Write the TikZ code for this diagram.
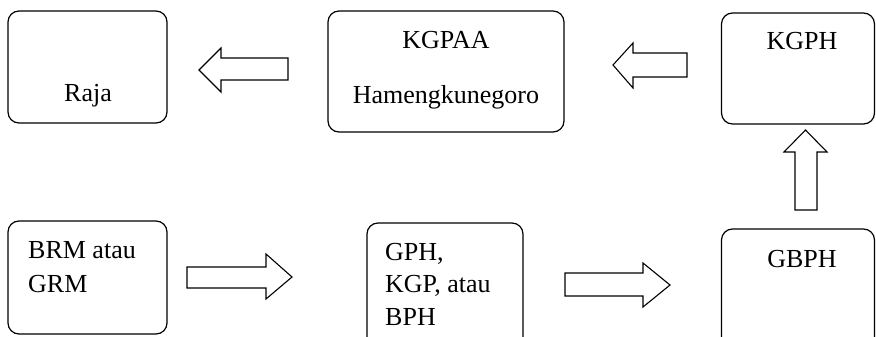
\documentclass[tikz,border=0pt]{standalone}
\usepackage{fontspec}
\setmainfont{Liberation Serif}
\begin{document}
\begin{tikzpicture}[x=1pt,y=-1pt,
  box/.style={draw,line width=1.2pt,rounded corners=11pt,inner sep=0pt},
  lbl/.style={inner sep=0pt,font=\fontsize{26}{32}\selectfont},
  blockarrow/.style={draw,line width=1.1pt,fill=white,line join=miter}]
\useasboundingbox (0,0) rectangle (876,337);
\clip (0,0) rectangle (876,337);

% rank boxes
\node[box,minimum width=159,minimum height=112] (raja)  at (87.5,67) {};
\node[box,minimum width=236,minimum height=121] (kgpaa) at (446,71.5) {};
\node[box,minimum width=153,minimum height=111] (kgph)  at (798,68.5) {};
\node[box,minimum width=159,minimum height=113] (brm)   at (87.5,277.5) {};
\node[box,minimum width=156,minimum height=140] (gph)   at (445,293) {};
\node[box,minimum width=153,minimum height=140] (gbph)  at (798,299) {};

% labels
\node[lbl,anchor=base] (traja) at (88,102) {Raja};
\node[lbl,anchor=base] (tkgpaa) at (446,49) {KGPAA};
\node[lbl,anchor=base] (thame) at (446,103) {Hamengkunegoro};
\node[lbl,anchor=base] (tkgph) at (802,50) {KGPH};
\node[lbl,anchor=base west] (tbrm1) at (28,258) {BRM atau};
\node[lbl,anchor=base west] (tbrm2) at (28,292) {GRM};
\node[lbl,anchor=base west] (tgph1) at (385,260) {GPH,};
\node[lbl,anchor=base west] (tgph2) at (385,292) {KGP, atau};
\node[lbl,anchor=base west] (tgph3) at (385,325) {BPH};
\node[lbl,anchor=base] (tgbph) at (802,267) {GBPH};

% block arrows between the boxes
\coordinate (a1) at (199,70);
\draw[blockarrow] (288,58) -- (221,58) -- (221,48) -- (a1) -- (221,92) -- (221,80) -- (288,80) -- cycle;
\coordinate (a2) at (613,65);
\draw[blockarrow] (687,53) -- (633,53) -- (633,43) -- (a2) -- (633,88) -- (633,77) -- (687,77) -- cycle;
\coordinate (a3) at (805.5,130);
\draw[blockarrow] (795,210) -- (795,152) -- (784,152) -- (a3) -- (827,152) -- (817,152) -- (817,210) -- cycle;
\coordinate (a4) at (292,277);
\draw[blockarrow] (187,267) -- (266,267) -- (266,254) -- (a4) -- (266,299) -- (266,288) -- (187,288) -- cycle;
\coordinate (a5) at (670,285);
\draw[blockarrow] (565,273) -- (643,273) -- (643,263) -- (a5) -- (643,307) -- (643,296) -- (565,296) -- cycle;
\end{tikzpicture}
\end{document}
